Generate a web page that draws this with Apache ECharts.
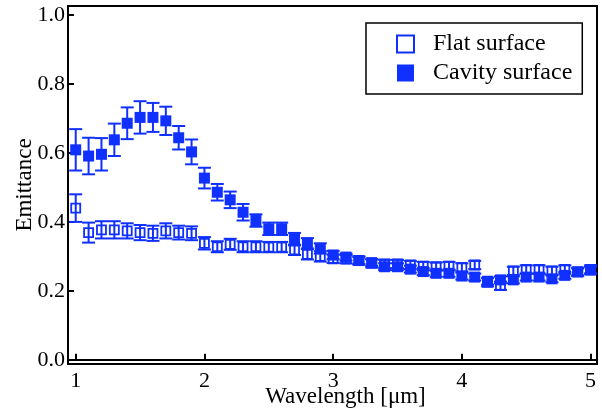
<!DOCTYPE html>
<html>
<head>
<meta charset="utf-8">
<script src="https://cdn.jsdelivr.net/npm/echarts@6/dist/echarts.min.js"></script>
<style>
  html, body { margin: 0; padding: 0; background: #fff; }
  #chart { width: 602px; height: 414px; }
</style>
</head>
<body>
<div id="chart"></div>
<script>
// wavelength [um]
const wavelength = [1.0, 1.1, 1.2, 1.3, 1.4, 1.5, 1.6, 1.7, 1.8, 1.9,
  2.0, 2.1, 2.2, 2.3, 2.4, 2.5, 2.6, 2.7, 2.8, 2.9,
  3.0, 3.1, 3.2, 3.3, 3.4, 3.5, 3.6, 3.7, 3.8, 3.9,
  4.0, 4.1, 4.2, 4.3, 4.4, 4.5, 4.6, 4.7, 4.8, 4.9, 5.0]
// flat surface
const flatValues = [0.440, 0.369, 0.377, 0.377, 0.374, 0.369, 0.367, 0.374, 0.369, 0.367,
  0.338, 0.328, 0.335, 0.328, 0.328, 0.327, 0.327, 0.319, 0.306, 0.300,
  0.293, 0.292, 0.288, 0.280, 0.278, 0.278, 0.275, 0.272, 0.270, 0.272,
  0.268, 0.275, 0.225, 0.215, 0.258, 0.262, 0.262, 0.258, 0.262, 0.255, 0.262]
const flatErrors = [0.040, 0.029, 0.025, 0.025, 0.022, 0.022, 0.022, 0.022, 0.020, 0.020,
  0.018, 0.016, 0.016, 0.016, 0.016, 0.015, 0.015, 0.015, 0.015, 0.015,
  0.012, 0.012, 0.012, 0.012, 0.012, 0.012, 0.012, 0.012, 0.012, 0.012,
  0.012, 0.012, 0.012, 0.012, 0.012, 0.012, 0.012, 0.012, 0.012, 0.012, 0.012]
// cavity surface
const cavityValues = [0.609, 0.591, 0.596, 0.638, 0.686, 0.703, 0.703, 0.693, 0.644, 0.603,
  0.527, 0.486, 0.464, 0.428, 0.404, 0.380, 0.380, 0.350, 0.338, 0.323,
  0.304, 0.298, 0.288, 0.282, 0.270, 0.270, 0.263, 0.256, 0.251, 0.251,
  0.243, 0.240, 0.228, 0.232, 0.232, 0.240, 0.240, 0.235, 0.245, 0.255, 0.260]
const cavityErrors = [0.060, 0.053, 0.047, 0.047, 0.046, 0.047, 0.042, 0.041, 0.034, 0.036,
  0.030, 0.024, 0.024, 0.024, 0.018, 0.018, 0.018, 0.018, 0.015, 0.015,
  0.012, 0.010, 0.010, 0.010, 0.010, 0.010, 0.010, 0.010, 0.010, 0.010,
  0.010, 0.010, 0.010, 0.010, 0.010, 0.010, 0.010, 0.010, 0.010, 0.010, 0.010]
const xTicks = [1, 2, 3, 4, 5]
const yTicks = [0, 0.2, 0.4, 0.6, 0.8, 1.0]

const blue = '#0f30ff'
const serif = 'Liberation Serif'

const points = (vals) => wavelength.map((x, i) => [x, vals[i]])
const bars = (vals, errs) => wavelength.map((x, i) => [x, vals[i] - errs[i], vals[i] + errs[i]])

// error bar with caps
function errorBar(capHalf) {
  return function (params, api) {
    const top = api.coord([api.value(0), api.value(2)])
    const bot = api.coord([api.value(0), api.value(1)])
    const style = { stroke: blue, lineWidth: 2 }
    return {
      type: 'group',
      children: [
        { type: 'line', shape: { x1: top[0], y1: top[1], x2: bot[0], y2: bot[1] }, style: style },
        { type: 'line', shape: { x1: top[0] - capHalf, y1: top[1], x2: top[0] + capHalf, y2: top[1] }, style: style },
        { type: 'line', shape: { x1: bot[0] - capHalf, y1: bot[1], x2: bot[0] + capHalf, y2: bot[1] }, style: style }
      ]
    }
  }
}

const axisText = { color: '#000', fontFamily: serif, fontSize: 22 }
const flatStyle = { color: '#fff', borderColor: blue, borderWidth: 2, opacity: 1 }
const cavityStyle = { color: blue, opacity: 1 }

const myChart = echarts.init(document.getElementById('chart'))
myChart.setOption({
  animation: false,
  grid: {
    left: 68, right: 5, top: 6, bottom: 50,
    show: true, borderColor: '#000', borderWidth: 2
  },
  legend: {
    orient: 'vertical',
    left: 366,
    top: 23,
    padding: [9, 10, 9, 30],
    itemWidth: 17,
    itemHeight: 17,
    itemGap: 5,
    borderColor: '#000',
    borderWidth: 1.5,
    textStyle: { color: '#000', fontFamily: serif, fontSize: 24, padding: [0, 0, 0, 14] },
    data: [
      { name: 'Flat surface', icon: 'rect', itemStyle: { color: '#fff', borderColor: blue, borderWidth: 2 } },
      { name: 'Cavity surface', icon: 'rect', itemStyle: { color: blue, borderWidth: 0 } }
    ]
  },
  xAxis: {
    type: 'value',
    min: 0.94,
    max: 5.05,
    name: 'Wavelength [\u03bcm]',
    nameLocation: 'middle',
    nameGap: 21,
    nameMoveOverlap: false,
    nameTextStyle: { color: '#000', fontFamily: serif, fontSize: 23, padding: [0, 0, 0, 26] },
    axisLine: { show: true, lineStyle: { color: '#000', width: 2 } },
    axisTick: { inside: true, length: 6, lineStyle: { color: '#000', width: 2 }, customValues: xTicks },
    axisLabel: Object.assign({ margin: 6, customValues: xTicks }, axisText),
    splitLine: { show: false }
  },
  yAxis: {
    type: 'value',
    min: -0.012,
    max: 1.026,
    name: 'Emittance',
    nameLocation: 'middle',
    nameGap: 32,
    nameMoveOverlap: false,
    nameTextStyle: { color: '#000', fontFamily: serif, fontSize: 23 },
    axisLine: { show: true, lineStyle: { color: '#000', width: 2 } },
    axisTick: { inside: true, length: 6, lineStyle: { color: '#000', width: 2 }, customValues: yTicks },
    axisLabel: Object.assign({ margin: 3, customValues: yTicks, formatter: v => v.toFixed(1) }, axisText),
    splitLine: { show: false }
  },
  series: [
    {
      name: 'Cavity surface',
      type: 'custom',
      renderItem: errorBar(6.5),
      data: bars(cavityValues, cavityErrors),
      encode: { x: 0, y: [1, 2] },
      itemStyle: cavityStyle,
      silent: true,
      z: 1
    },
    {
      name: 'Cavity surface',
      type: 'scatter',
      symbol: 'rect',
      symbolSize: 11,
      itemStyle: cavityStyle,
      data: points(cavityValues),
      z: 2
    },
    {
      name: 'Flat surface',
      type: 'custom',
      renderItem: errorBar(6.5),
      data: bars(flatValues, flatErrors),
      encode: { x: 0, y: [1, 2] },
      itemStyle: flatStyle,
      silent: true,
      z: 3
    },
    {
      name: 'Flat surface',
      type: 'scatter',
      symbol: 'rect',
      symbolSize: 9,
      itemStyle: { color: 'rgba(255,255,255,0)', borderColor: blue, borderWidth: 1.8, opacity: 1 },
      data: points(flatValues),
      z: 4
    }
  ]
})
</script>
</body>
</html>
